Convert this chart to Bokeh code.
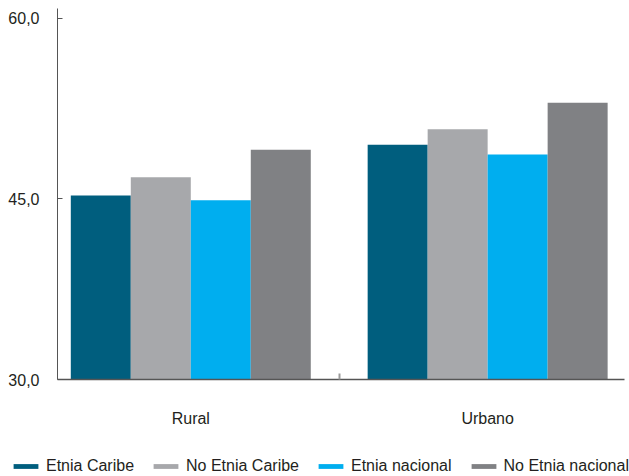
from bokeh.plotting import figure
from bokeh.layouts import column
from bokeh.models import FixedTicker, Range1d, Legend
from bokeh.embed import file_html
from bokeh.resources import INLINE

# Values by area of residence
groups = ["Rural", "Urbano"]
etnia_caribe = [45.3, 49.5]
no_etnia_caribe = [46.8, 50.8]
etnia_nacional = [44.9, 48.7]
no_etnia_nacional = [49.1, 53.0]

series = [
    ("Etnia Caribe", etnia_caribe, "#005E7E"),
    ("No Etnia Caribe", no_etnia_caribe, "#A7A8AB"),
    ("Etnia nacional", etnia_nacional, "#00AEEF"),
    ("No Etnia nacional", no_etnia_nacional, "#808184"),
]

y_ticks = [30, 45, 60]
y_tick_labels = ["30,0", "45,0", "60,0"]

FONT = "Liberation Sans"
TEXT = "#231F20"

p = figure(
    width=629, height=446,
    x_range=Range1d(-0.449, 1.461), y_range=Range1d(30, 60.83),
    output_backend="svg", toolbar_location=None,
    min_border_left=57, min_border_right=5, min_border_top=8, min_border_bottom=67,
)
p.outline_line_color = None
p.xgrid.visible = False
p.ygrid.visible = False

bar_w = 0.2021
offsets = [-1.5 * bar_w, -0.5 * bar_w, 0.5 * bar_w, 1.5 * bar_w]
for (name, vals, color), off in zip(series, offsets):
    xs = [i + off for i in range(len(groups))]
    p.vbar(x=xs, top=vals, bottom=30, width=bar_w, fill_color=color,
           line_color=None)

# x axis: category names at the group centres, a small divider tick between groups
p.xaxis.ticker = FixedTicker(ticks=[0, 1], minor_ticks=[0.5])
p.xaxis.major_label_overrides = {0: groups[0], 1: groups[1]}
p.xaxis.major_tick_line_color = None
p.xaxis.minor_tick_in = 6
p.xaxis.minor_tick_out = 0
p.xaxis.minor_tick_line_color = "#9A9A9A"
p.xaxis.minor_tick_line_width = 2
p.xaxis.axis_line_color = "#555555"
p.xaxis.axis_line_width = 1.5
p.xaxis.major_label_standoff = 24
p.xaxis.major_label_text_font = FONT
p.xaxis.major_label_text_font_size = "16px"
p.xaxis.major_label_text_color = TEXT

# y axis
p.yaxis.ticker = FixedTicker(ticks=y_ticks, minor_ticks=[])
p.yaxis.major_label_overrides = dict(zip(y_ticks, y_tick_labels))
p.yaxis.major_tick_in = 5
p.yaxis.major_tick_out = 0
p.yaxis.major_tick_line_color = "#555555"
p.yaxis.axis_line_color = "#555555"
p.yaxis.major_label_standoff = 18
p.yaxis.major_label_text_font = FONT
p.yaxis.major_label_text_font_size = "16px"
p.yaxis.major_label_text_color = TEXT

# separate strip holding the one-row legend
leg_fig = figure(
    width=629, height=30, x_range=Range1d(0, 1), y_range=Range1d(0, 1),
    x_axis_location=None, y_axis_location=None,
    output_backend="svg", toolbar_location=None,
    min_border=0, min_border_left=0, min_border_right=0,
    min_border_top=0, min_border_bottom=0,
)
leg_fig.frame_align = False
leg_fig.xgrid.visible = False
leg_fig.ygrid.visible = False
leg_fig.outline_line_color = None

items = []
for name, vals, color in series:
    # swatch renderer: its only bar lies outside the visible range
    r = leg_fig.vbar(x=[5], top=[1], bottom=0, width=0.1, fill_color=color,
                     line_color=None)
    items.append((name, [r]))

lg = Legend(items=items, orientation="horizontal", location=(10, 1))
lg.glyph_width = 31
lg.glyph_height = 6
lg.label_standoff = 5
lg.spacing = 16
lg.padding = 0
lg.margin = 0
lg.label_height = 14
lg.border_line_color = None
lg.background_fill_alpha = 0
lg.label_text_font = FONT
lg.label_text_font_size = "16px"
lg.label_text_color = TEXT
leg_fig.add_layout(lg, "center")

layout = column(p, leg_fig, spacing=0)
open("out.html", "w").write(file_html(layout, INLINE))
